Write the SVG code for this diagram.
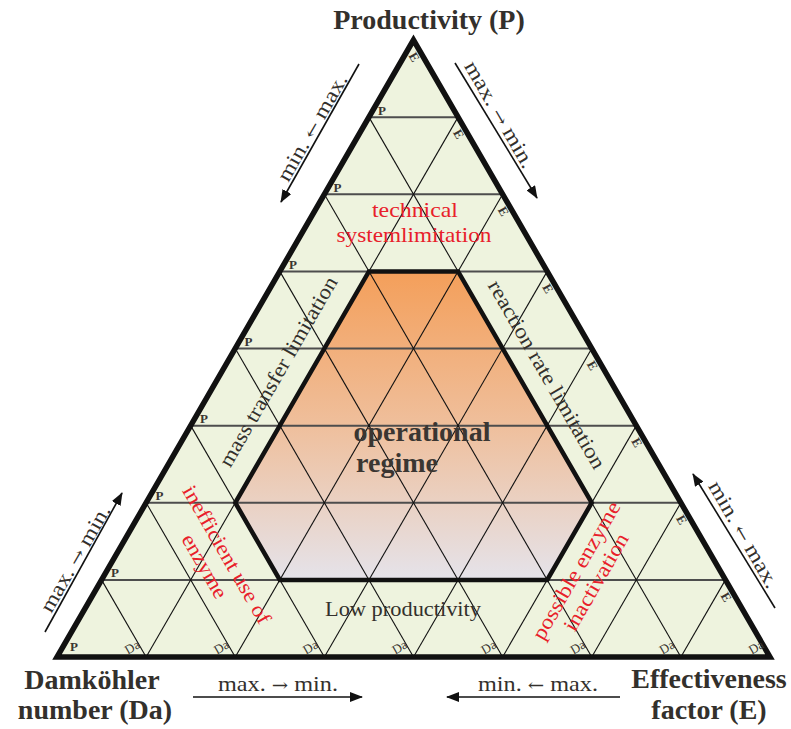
<svg xmlns="http://www.w3.org/2000/svg" width="791" height="729" viewBox="0 0 791 729">
<style>
.tri{fill:#eef3de;stroke:none}
.border{fill:none;stroke:#111;stroke-width:5.5;stroke-linejoin:miter}
.h{stroke:#4d4d4d;stroke-width:2}
.d{stroke:#111;stroke-width:1.1}
.hex{fill:none;stroke:#111;stroke-width:4.5;stroke-linejoin:miter}
text{font-family:"Liberation Serif","Times New Roman",serif}
.tk{font-size:13px;font-weight:bold;fill:#3a3632}
.da{font-size:13px;font-weight:normal;fill:#3a3632}
.big{font-size:28px;font-weight:bold;fill:#33302c}
.lab{font-size:21px;fill:#33302c}
.ar{font-family:"DejaVu Serif",serif;font-size:17px}
.red{font-size:21px;fill:#e8202a}
.dark{font-size:21px;fill:#33302c}
.op{font-size:28px;font-weight:bold;fill:#3a3632}
.arr{stroke:#111;stroke-width:1.6;fill:none;marker-end:url(#ah)}
</style>
<defs>
<linearGradient id="hg" gradientUnits="userSpaceOnUse" x1="0" y1="271" x2="0" y2="580">
<stop offset="0" stop-color="#f49f5a"/>
<stop offset="0.5" stop-color="#efbf9c"/>
<stop offset="1" stop-color="#e5e3ea"/>
</linearGradient>
<marker id="ah" markerUnits="userSpaceOnUse" markerWidth="14" markerHeight="10" refX="12" refY="5" orient="auto">
<path d="M0,0 L13,5 L0,10 Z" fill="#111"/>
</marker>
</defs>

<g id="triangle">
<polygon class="tri" points="413.5,40 57,657 770,657"/>
</g>
<g id="operational-regime-area">
<polygon points="368.94,271.38 458.06,271.38 591.75,502.75 547.19,579.88 279.81,579.88 235.25,502.75" fill="url(#hg)"/>
</g>

<g id="grid">
<g class="h">
<line x1="368.94" y1="117.13" x2="458.06" y2="117.13"/>
<line x1="324.38" y1="194.25" x2="502.63" y2="194.25"/>
<line x1="279.81" y1="271.38" x2="547.19" y2="271.38"/>
<line x1="235.25" y1="348.5" x2="591.75" y2="348.5"/>
<line x1="190.69" y1="425.63" x2="636.31" y2="425.63"/>
<line x1="146.13" y1="502.75" x2="680.88" y2="502.75"/>
<line x1="101.56" y1="579.88" x2="725.44" y2="579.88"/>
</g>
<g class="d">
<line x1="368.94" y1="117.13" x2="680.88" y2="657"/>
<line x1="324.38" y1="194.25" x2="591.75" y2="657"/>
<line x1="279.81" y1="271.38" x2="502.63" y2="657"/>
<line x1="235.25" y1="348.5" x2="413.5" y2="657"/>
<line x1="190.69" y1="425.63" x2="324.38" y2="657"/>
<line x1="146.13" y1="502.75" x2="235.25" y2="657"/>
<line x1="101.56" y1="579.88" x2="146.13" y2="657"/>
<line x1="458.06" y1="117.13" x2="146.13" y2="657"/>
<line x1="502.63" y1="194.25" x2="235.25" y2="657"/>
<line x1="547.19" y1="271.38" x2="324.38" y2="657"/>
<line x1="591.75" y1="348.5" x2="413.5" y2="657"/>
<line x1="636.31" y1="425.63" x2="502.63" y2="657"/>
<line x1="680.88" y1="502.75" x2="591.75" y2="657"/>
<line x1="725.44" y1="579.88" x2="680.88" y2="657"/>
</g>
</g>

<g id="regime-border">
<polygon class="hex" points="368.94,271.38 458.06,271.38 591.75,502.75 547.19,579.88 279.81,579.88 235.25,502.75"/>
</g>
<g id="triangle-border">
<polygon class="border" points="413.5,40 57,657 770,657"/>
</g>

<g id="tick-labels">
<g class="tk">
<text x="378" y="115">P</text>
<text x="333.5" y="192">P</text>
<text x="289" y="269">P</text>
<text x="244.5" y="346">P</text>
<text x="200" y="423">P</text>
<text x="155.5" y="500">P</text>
<text x="111" y="577">P</text>
<text x="70" y="651">P</text>
</g>
<g class="tk" text-anchor="middle">
<text transform="translate(414.3,57) rotate(60)" y="4.5">E</text>
<text transform="translate(458.9,134.1) rotate(60)" y="4.5">E</text>
<text transform="translate(503.5,211.3) rotate(60)" y="4.5">E</text>
<text transform="translate(548,288.4) rotate(60)" y="4.5">E</text>
<text transform="translate(592.6,365.5) rotate(60)" y="4.5">E</text>
<text transform="translate(637.1,442.6) rotate(60)" y="4.5">E</text>
<text transform="translate(681.7,519.8) rotate(60)" y="4.5">E</text>
<text transform="translate(726.3,596.9) rotate(60)" y="4.5">E</text>
</g>
<g class="da" text-anchor="middle">
<text transform="translate(132.1,647) rotate(-30)" y="4.5">Da</text>
<text transform="translate(221.3,647) rotate(-30)" y="4.5">Da</text>
<text transform="translate(310.4,647) rotate(-30)" y="4.5">Da</text>
<text transform="translate(399.5,647) rotate(-30)" y="4.5">Da</text>
<text transform="translate(488.6,647) rotate(-30)" y="4.5">Da</text>
<text transform="translate(577.8,647) rotate(-30)" y="4.5">Da</text>
<text transform="translate(666.9,647) rotate(-30)" y="4.5">Da</text>
<text transform="translate(756,647) rotate(-30)" y="4.5">Da</text>
</g>
</g>

<g id="region-labels">
<text class="red" x="415" y="217" text-anchor="middle" textLength="86" lengthAdjust="spacingAndGlyphs">technical</text>
<text class="red" x="414" y="242" text-anchor="middle" textLength="155" lengthAdjust="spacingAndGlyphs">systemlimitation</text>
<text class="dark" transform="translate(279,372) rotate(-60)" y="6" text-anchor="middle" textLength="216" lengthAdjust="spacingAndGlyphs">mass transfer limitation</text>
<text class="dark" transform="translate(546,375) rotate(60)" y="6" text-anchor="middle" textLength="214" lengthAdjust="spacingAndGlyphs">reaction rate limitation</text>
<text class="op" x="422" y="441" text-anchor="middle">operational</text>
<text class="op" x="397" y="472" text-anchor="middle">regime</text>
<text class="dark" x="403" y="616" text-anchor="middle" font-size="19" textLength="156" lengthAdjust="spacingAndGlyphs">Low productivity</text>
<g transform="translate(226,555) rotate(60)">
<text class="red" y="6" text-anchor="middle" textLength="156" lengthAdjust="spacingAndGlyphs">inefficient use of</text>
<text class="red" x="-1" y="31" text-anchor="middle" textLength="71" lengthAdjust="spacingAndGlyphs">enzyme</text>
</g>
<g transform="translate(577,571) rotate(-60)">
<text class="red" y="6" text-anchor="middle" textLength="156" lengthAdjust="spacingAndGlyphs">possible enzyme</text>
<text class="red" y="29" text-anchor="middle" textLength="109" lengthAdjust="spacingAndGlyphs">inactivation</text>
</g>
</g>

<g id="axis-titles" class="big">
<text x="429" y="29" text-anchor="middle">Productivity (P)</text>
<text x="92" y="689" text-anchor="middle">Damköhler</text>
<text x="95" y="719" text-anchor="middle">number (Da)</text>
<text x="709" y="688" text-anchor="middle">Effectiveness</text>
<text x="709" y="719" text-anchor="middle">factor (E)</text>
</g>

<g id="connectors">
<line class="arr" x1="359" y1="64" x2="281" y2="202"/>
<line class="arr" x1="455" y1="63" x2="537" y2="198"/>
<line class="arr" x1="45" y1="632" x2="122" y2="493"/>
<line class="arr" x1="775" y1="608" x2="693" y2="474"/>
<line class="arr" x1="193" y1="697" x2="362" y2="697"/>
<line class="arr" x1="620" y1="697" x2="447" y2="697"/>
</g>

<g id="direction-labels" class="lab" text-anchor="middle">
<text transform="translate(313,128) rotate(-60)" y="6" textLength="120" lengthAdjust="spacingAndGlyphs">min. <tspan class="ar">←</tspan> max.</text>
<text transform="translate(499,115) rotate(60)" y="6" textLength="120" lengthAdjust="spacingAndGlyphs">max. <tspan class="ar">→</tspan> min.</text>
<text transform="translate(76,559) rotate(-60)" y="6" textLength="120" lengthAdjust="spacingAndGlyphs">max. <tspan class="ar">→</tspan> min.</text>
<text transform="translate(743,535) rotate(60)" y="6" textLength="120" lengthAdjust="spacingAndGlyphs">min. <tspan class="ar">←</tspan> max.</text>
<text x="278" y="691" textLength="120" lengthAdjust="spacingAndGlyphs">max. <tspan class="ar">→</tspan> min.</text>
<text x="538" y="691" textLength="120" lengthAdjust="spacingAndGlyphs">min. <tspan class="ar">←</tspan> max.</text>
</g>
</svg>
